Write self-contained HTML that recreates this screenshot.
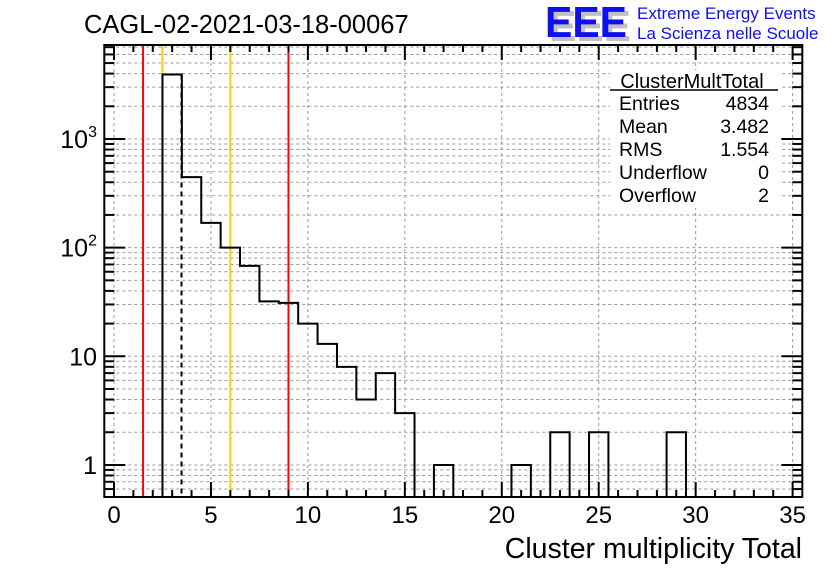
<!DOCTYPE html>
<html><head><meta charset="utf-8"><style>
body{margin:0;background:#fff;}
svg{display:block;font-family:"Liberation Sans",sans-serif;}
</style></head><body>
<svg id="c" width="836" height="572">
<text x="84" y="33" font-size="25.5">CAGL-02-2021-03-18-00067</text>
<g>
<text x="549" y="41" font-size="44" font-weight="bold" fill="#c0c0c0" textLength="82" lengthAdjust="spacingAndGlyphs">EEE</text>
<text x="545" y="37" font-size="44" font-weight="bold" fill="#1010ee" textLength="82" lengthAdjust="spacingAndGlyphs">EEE</text>
<text x="637" y="19" font-size="17" fill="#1010ee">Extreme Energy Events</text>
<text x="637" y="39" font-size="17" fill="#1010ee">La Scienza nelle Scuole</text>
</g>
<g id="grid"></g><g id="stats"></g><g id="marks"></g><g id="axes"></g>
<text x="802" y="558" font-size="28.5" text-anchor="end">Cluster multiplicity Total</text>
</svg>
<script>
const binCenters=[3,4,5,6,7,8,9,10,11,12,13,14,15,16,17,18,19,20,21,22,23,24,25,26,27,28,29];
const counts=[3925,446,169,100,68,32,31,20,13,8,4,7,3,0,1,0,0,0,1,0,2,0,2,0,0,0,2];
const xTicks=[0,5,10,15,20,25,30,35];
const yDecades=[1,10,100,1000];
const yLabels=["1","10","10^2","10^3"];
const redLines=[1.5,9];
const yellowLines=[2.5,6];
const meanLine=3.482;
const statsRows=[["Entries","4834"],["Mean","3.482"],["RMS","1.554"],["Underflow","0"],["Overflow","2"]];
const L=104.3,R=802.3,T=45,B=497,X0=-0.5,X1=35.5,YMIN=0.507,YMAX=7330;
const NS="http://www.w3.org/2000/svg";
function X(v){return L+(v-X0)/(X1-X0)*(R-L);}
function Y(v){if(v<=YMIN)return B;return B-(Math.log10(v)-Math.log10(YMIN))/(Math.log10(YMAX)-Math.log10(YMIN))*(B-T);}
function mk(t,a,p){const e=document.createElementNS(NS,t);for(const k in a)e.setAttribute(k,a[k]);p.appendChild(e);return e;}
const grid=document.getElementById('grid'),marks=document.getElementById('marks'),axes=document.getElementById('axes'),stats=document.getElementById('stats');
xTicks.forEach(v=>{const l=mk('line',{x1:X(v),x2:X(v),y1:T,y2:B,stroke:'#999','stroke-dasharray':'3,3','stroke-width':1},grid);
});
const yTickVals=[];
yDecades.forEach(d=>{for(let m=1;m<=9;m++)yTickVals.push(d*m);});
[0.6,0.7,0.8,0.9].forEach(v=>yTickVals.push(v));
yTickVals.forEach(v=>{if(v<YMIN||v>YMAX)return;const l=mk('line',{x1:L,x2:R,y1:Y(v),y2:Y(v),stroke:'#999','stroke-dasharray':'3,3','stroke-width':1},grid);
});
const sb=mk('rect',{x:610,y:70,width:170,height:138,fill:'#fff'},stats);

const st=mk('text',{x:692,y:88,'font-size':20,'text-anchor':'middle'},stats);st.textContent='ClusterMultTotal';

mk('line',{x1:610,x2:778,y1:90,y2:90,stroke:'#000','stroke-width':1.5},stats);
statsRows.forEach((r,i)=>{const y=110+i*23;
const a=mk('text',{x:619,y:y,'font-size':19.5},stats);a.textContent=r[0];

const b=mk('text',{x:769,y:y,'font-size':19.5,'text-anchor':'end'},stats);b.textContent=r[1];
});
redLines.forEach(v=>{const l=mk('line',{x1:X(v),x2:X(v),y1:T,y2:B,stroke:'#f00','stroke-width':2},marks);
});
yellowLines.forEach(v=>{const l=mk('line',{x1:X(v),x2:X(v),y1:T,y2:B,stroke:'#fc0','stroke-width':2},marks);
});
let d='M'+X(binCenters[0]-0.5)+','+B;
binCenters.forEach((c,i)=>{const y=Y(counts[i]);d+=' L'+X(c-0.5)+','+y+' L'+X(c+0.5)+','+y;});
d+=' L'+X(binCenters[binCenters.length-1]+0.5)+','+B;
const h=mk('path',{d:d,fill:'none',stroke:'#000','stroke-width':2},marks);

const ml=mk('line',{x1:X(meanLine),x2:X(meanLine),y1:Y(counts[0]),y2:B,stroke:'#000','stroke-width':2,'stroke-dasharray':'5,4'},marks);

const fr=mk('rect',{x:L,y:T,width:R-L,height:B-T,fill:'none',stroke:'#000','stroke-width':2},axes);

for(let v=0;v<=35;v++){const len=(v%5==0)?15:7;
mk('line',{x1:X(v),x2:X(v),y1:B,y2:B-len,stroke:'#000','stroke-width':2},axes);
mk('line',{x1:X(v),x2:X(v),y1:T,y2:T+len,stroke:'#000','stroke-width':2},axes);}
xTicks.forEach(v=>{const t=mk('text',{x:X(v),y:523,'font-size':24,'text-anchor':'middle'},axes);t.textContent=v;
});
yTickVals.forEach(v=>{if(v<YMIN||v>YMAX)return;const maj=yDecades.indexOf(v)>=0;const len=maj?21:10;
mk('line',{x1:L,x2:L+len,y1:Y(v),y2:Y(v),stroke:'#000','stroke-width':2},axes);
mk('line',{x1:R,x2:R-len,y1:Y(v),y2:Y(v),stroke:'#000','stroke-width':2},axes);});
yDecades.forEach((v,i)=>{const lab=yLabels[i];const t=mk('text',{x:97,y:Y(v)+9,'font-size':25,'text-anchor':'end'},axes);
if(lab.indexOf('^')>0){const p=lab.split('^');t.textContent=p[0];const s=mk('tspan',{'font-size':16,dy:-11},t);s.textContent=p[1];}
else t.textContent=lab;
});
</script>
</body></html>
